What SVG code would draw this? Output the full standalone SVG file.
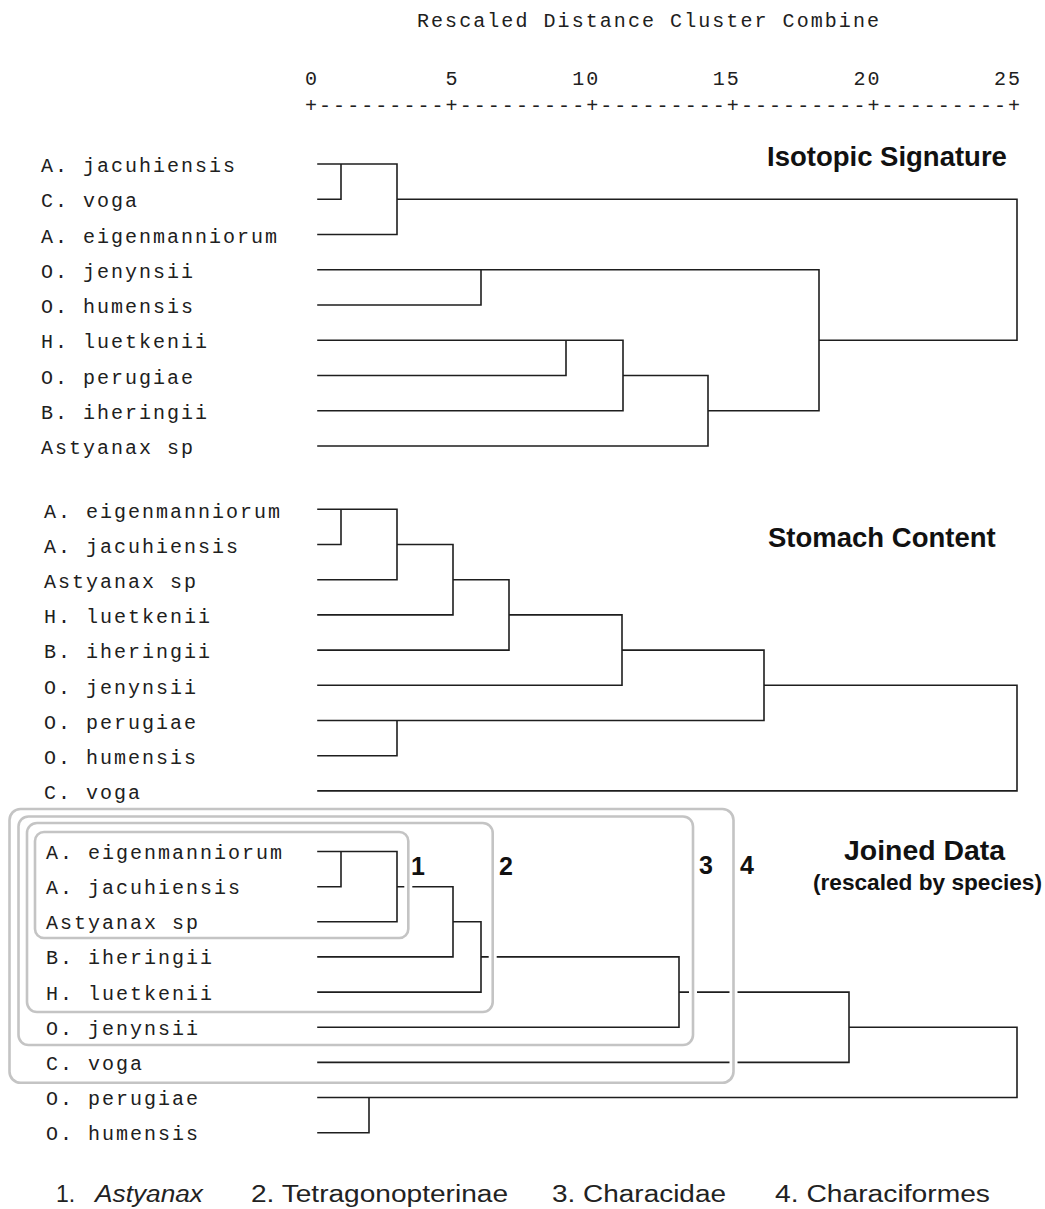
<svg xmlns="http://www.w3.org/2000/svg" width="1045" height="1209" viewBox="0 0 1045 1209">
<style>
.mono{font-family:"Liberation Mono","DejaVu Sans Mono",monospace;font-size:20px;letter-spacing:2px;fill:#202020;white-space:pre}
.axis{letter-spacing:2.06px}
.title{font-family:"Liberation Sans",Arial,sans-serif;font-weight:bold;font-size:27.5px;fill:#111}
.num{font-family:"Liberation Sans",Arial,sans-serif;font-weight:bold;font-size:25px;fill:#111}
.leg{font-family:"Liberation Sans",Arial,sans-serif;font-size:23px;fill:#222}
.den{fill:none;stroke:#1e1e1e;stroke-width:1.6;stroke-linecap:square;stroke-linejoin:miter}
.halo{fill:none;stroke:#fff;stroke-width:8}
.box{fill:none;stroke:#c4c4c4;stroke-width:2.6}
</style>
<rect width="1045" height="1209" fill="#fff"/>

<g id="axis">
<text class="mono axis" x="417" y="27">Rescaled Distance Cluster Combine</text>
<text class="mono axis" x="305" y="85">0         5        10        15        20        25</text>
<text class="mono axis" x="305" y="112">+---------+---------+---------+---------+---------+</text>
</g>

<g id="isotopic-labels">
<g id="iso-a-jacuhiensis"><text class="mono" x="41" y="172">A. jacuhiensis</text></g>
<g id="iso-c-voga"><text class="mono" x="41" y="207.25">C. voga</text></g>
<g id="iso-a-eigenmanniorum"><text class="mono" x="41" y="242.5">A. eigenmanniorum</text></g>
<g id="iso-o-jenynsii"><text class="mono" x="41" y="277.75">O. jenynsii</text></g>
<g id="iso-o-humensis"><text class="mono" x="41" y="313">O. humensis</text></g>
<g id="iso-h-luetkenii"><text class="mono" x="41" y="348.25">H. luetkenii</text></g>
<g id="iso-o-perugiae"><text class="mono" x="41" y="383.5">O. perugiae</text></g>
<g id="iso-b-iheringii"><text class="mono" x="41" y="418.75">B. iheringii</text></g>
<g id="iso-astyanax-sp"><text class="mono" x="41" y="454">Astyanax sp</text></g>
<g id="iso-title"><text class="title" x="767" y="166">Isotopic Signature</text></g>
</g>

<g id="stomach-labels">
<g id="sto-a-eigenmanniorum"><text class="mono" x="44" y="517.5">A. eigenmanniorum</text></g>
<g id="sto-a-jacuhiensis"><text class="mono" x="44" y="552.7">A. jacuhiensis</text></g>
<g id="sto-astyanax-sp"><text class="mono" x="44" y="587.9">Astyanax sp</text></g>
<g id="sto-h-luetkenii"><text class="mono" x="44" y="623.1">H. luetkenii</text></g>
<g id="sto-b-iheringii"><text class="mono" x="44" y="658.3">B. iheringii</text></g>
<g id="sto-o-jenynsii"><text class="mono" x="44" y="693.5">O. jenynsii</text></g>
<g id="sto-o-perugiae"><text class="mono" x="44" y="728.7">O. perugiae</text></g>
<g id="sto-o-humensis"><text class="mono" x="44" y="763.9">O. humensis</text></g>
<g id="sto-c-voga"><text class="mono" x="44" y="799.1">C. voga</text></g>
<g id="sto-title"><text class="title" x="768" y="547">Stomach Content</text></g>
</g>

<g id="joined-labels">
<g id="joi-a-eigenmanniorum"><text class="mono" x="46" y="859">A. eigenmanniorum</text></g>
<g id="joi-a-jacuhiensis"><text class="mono" x="46" y="894.2">A. jacuhiensis</text></g>
<g id="joi-astyanax-sp"><text class="mono" x="46" y="929.3">Astyanax sp</text></g>
<g id="joi-b-iheringii"><text class="mono" x="46" y="964.4">B. iheringii</text></g>
<g id="joi-h-luetkenii"><text class="mono" x="46" y="999.6">H. luetkenii</text></g>
<g id="joi-o-jenynsii"><text class="mono" x="46" y="1034.7">O. jenynsii</text></g>
<g id="joi-c-voga"><text class="mono" x="46" y="1069.9">C. voga</text></g>
<g id="joi-o-perugiae"><text class="mono" x="46" y="1105">O. perugiae</text></g>
<g id="joi-o-humensis"><text class="mono" x="46" y="1140.2">O. humensis</text></g>
<g id="joi-title"><text class="title" x="844" y="860" textLength="161" lengthAdjust="spacingAndGlyphs">Joined Data</text>
<text class="title" style="font-size:22px" x="813" y="890" textLength="229" lengthAdjust="spacingAndGlyphs">(rescaled by species)</text></g>
</g>

<g id="connectors">
<path class="den" d="M318,164H397V234.5H318 M318,199.25H341V164 M397,199.25H1017V340.25H819 M318,269.75H819V410.75H708 M318,305H481V269.75 M318,340.25H623V410.75H318 M318,375.5H566V340.25 M623,375.5H708V446H318"/>
<path class="den" d="M318,509.3H397V579.7H318 M318,544.5H341V509.3 M397,544.5H453V614.9H318 M453,579.7H509V650.1H318 M509,614.9H622V685.3H318 M622,650.1H764V720.5H318 M318,755.7H397V720.5 M764,685.3H1017V790.9H318"/>
<path class="den" d="M318,851.5H397V921.8H318 M318,886.7H341V851.5 M397,886.7H453V956.9H318 M453,921.8H481V992.1H318 M481,956.9H679V1027.2H318 M679,992.1H849V1062.4H318 M849,1027.2H1017V1097.5H318 M318,1132.7H369V1097.5"/>
</g>

<g id="group-boxes">
<rect class="halo" x="9.5" y="809" width="724" height="273.7" rx="11"/>
<rect class="halo" x="18.5" y="816.5" width="674.5" height="228.5" rx="10"/>
<rect class="halo" x="27" y="823" width="465.7" height="189" rx="10"/>
<rect class="halo" x="35" y="832" width="373.3" height="106" rx="9"/>
<rect id="box4" class="box" x="9.5" y="809" width="724" height="273.7" rx="11"/>
<rect id="box3" class="box" x="18.5" y="816.5" width="674.5" height="228.5" rx="10"/>
<rect id="box2" class="box" x="27" y="823" width="465.7" height="189" rx="10"/>
<rect id="box1" class="box" x="35" y="832" width="373.3" height="106" rx="9"/>
</g>

<g id="box-numbers">
<text class="num" x="411" y="875">1</text>
<text class="num" x="499" y="875">2</text>
<text class="num" x="699" y="874">3</text>
<text class="num" x="740" y="874">4</text>
</g>

<g id="legend">
<text class="leg" x="56" y="1201.5">1.</text>
<text class="leg" style="font-style:italic" x="95" y="1201.5" textLength="108" lengthAdjust="spacingAndGlyphs">Astyanax</text>
<text class="leg" x="251" y="1201.5" textLength="257" lengthAdjust="spacingAndGlyphs">2. Tetragonopterinae</text>
<text class="leg" x="552" y="1201.5" textLength="174" lengthAdjust="spacingAndGlyphs">3. Characidae</text>
<text class="leg" x="775" y="1201.5" textLength="215" lengthAdjust="spacingAndGlyphs">4. Characiformes</text>
</g>
</svg>
